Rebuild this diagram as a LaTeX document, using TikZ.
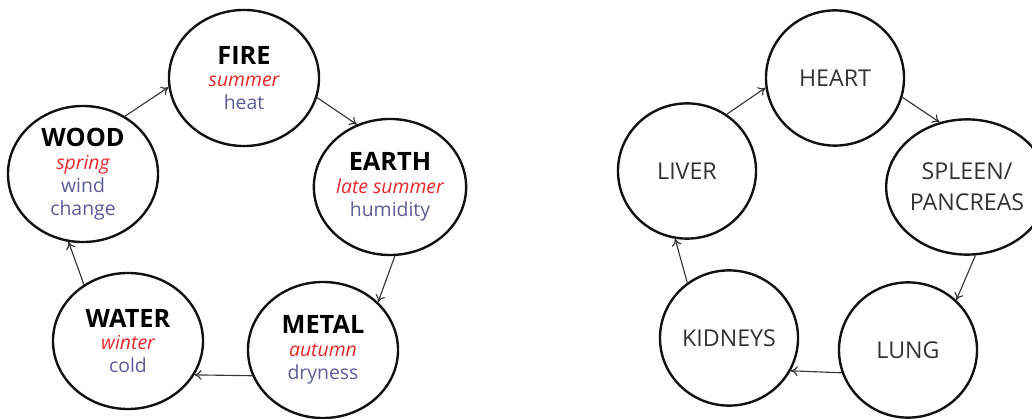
\documentclass[tikz,border=0pt]{standalone}
\usepackage{fontspec}
\setmainfont{Open Sans}
\usetikzlibrary{shapes.geometric,arrows.meta}
\definecolor{season}{HTML}{E8272B}
\definecolor{quality}{HTML}{5C5C98}
\definecolor{ink}{HTML}{111111}
\definecolor{organink}{HTML}{333333}

\begin{document}
\begin{tikzpicture}[x=0.025cm,y=-0.025cm,
    element/.style={ellipse,draw=ink,line width=1.7pt,minimum width=3.75cm,minimum height=3.4cm,
      inner sep=0pt,align=center,font=\fontsize{13.8}{16.3}\selectfont},
    organ/.style={ellipse,draw=ink,line width=1.7pt,minimum width=3.45cm,minimum height=3.38cm,
      inner sep=0pt,align=center,text=organink,font=\fontsize{16.5}{22}\selectfont},
    cycle/.style={draw=ink!85,line width=0.8pt,-{To[length=5pt,width=7pt]}}]
  \useasboundingbox (0,0) rectangle (1032,419);
  % five elements, left ring
  \node[element] (fire)  at (244,78)  {{\fontsize{18}{18}\selectfont\bfseries FIRE}\\{\color{season}\itshape summer}\\{\color{quality}heat}};
  \node[element] (earth) at (390,187) {{\fontsize{18}{18}\selectfont\bfseries EARTH}\\{\color{season}\itshape late summer}\\{\color{quality}humidity}};
  \node[element] (metal) at (323,350) {{\fontsize{18}{18}\selectfont\bfseries METAL}\\{\color{season}\itshape autumn}\\{\color{quality}dryness}};
  \node[element] (water) at (128,341) {{\fontsize{18}{18}\selectfont\bfseries WATER}\\{\color{season}\itshape winter}\\{\color{quality}cold}};
  \node[element] (wood)  at (83,174)  {{\fontsize{18}{18}\selectfont\bfseries WOOD}\\{\color{season}\itshape spring}\\{\color{quality}wind}\\{\color{quality}change}};
  \draw[cycle] (wood.54)   -- (fire.187);
  \draw[cycle] (fire.345)  -- (earth.118);
  \draw[cycle] (earth.274) -- (metal.41);
  \draw[cycle] (metal.200) -- (water.333);
  \draw[cycle] (water.128) -- (wood.258);
  % organs, right ring
  \node[organ] (heart)   at (835,78)  {HEART};
  \node[organ] (spleen)  at (967,187) {SPLEEN/\\PANCREAS};
  \node[organ] (lung)    at (908,350) {LUNG};
  \node[organ] (kidneys) at (729,338) {KIDNEYS};
  \node[organ] (liver)   at (687,171) {LIVER};
  \draw[cycle] (liver.55)    -- (heart.188);
  \draw[cycle] (heart.344)   -- (spleen.113);
  \draw[cycle] (spleen.277)  -- (lung.46);
  \draw[cycle] (lung.199)    -- (kidneys.332);
  \draw[cycle] (kidneys.127) -- (liver.260);
\end{tikzpicture}
\end{document}
